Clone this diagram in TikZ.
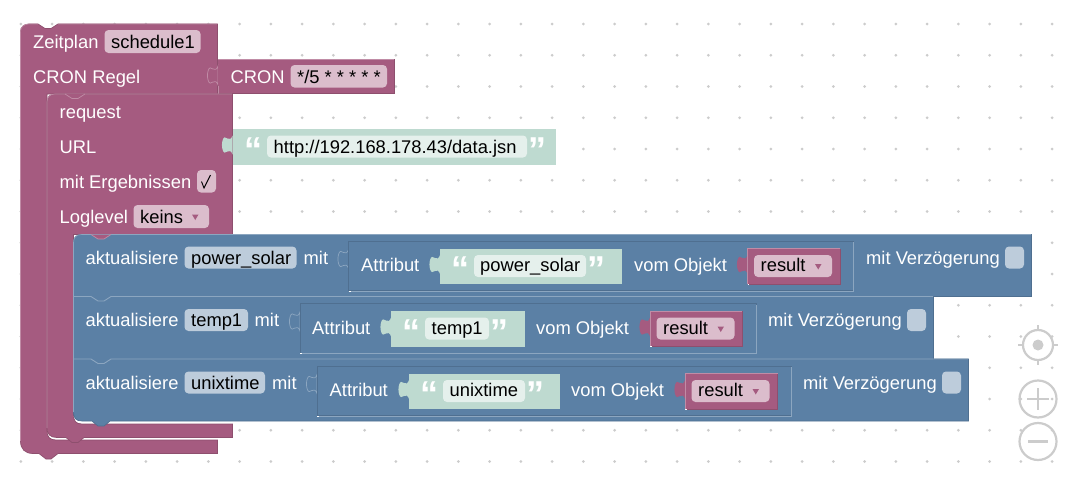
\documentclass[tikz,border=0pt]{standalone}
\usepackage{fontspec}
\setmainfont{Liberation Sans}
\definecolor{pink}{HTML}{A55B80}
\definecolor{pinkD}{HTML}{8E4F6E}
\definecolor{pinkL}{HTML}{C08CA6}
\definecolor{pinkF}{HTML}{DBBDCC}
\definecolor{blu}{HTML}{5B80A5}
\definecolor{bluD}{HTML}{4F6F90}
\definecolor{bluL}{HTML}{8CA6C0}
\definecolor{bluF}{HTML}{BDCCDB}
\definecolor{grn}{HTML}{BEDAD0}
\definecolor{grnF}{HTML}{E5F0EC}
\definecolor{ctl}{HTML}{CCCCCC}
\newcommand{\fs}{\fontsize{18.35}{22}\selectfont}
\tikzset{
 lbl/.style={anchor=base west,inner sep=0pt,text=white,font=\fs,yshift=-.7pt},
 val/.style={anchor=base west,inner sep=0pt,text=black,font=\fs,yshift=-.7pt},
 pinkblock/.style={fill=pink,draw=pinkD,line width=.7pt},
 blueblock/.style={fill=blu,draw=bluD,line width=.7pt},
 pinkfield/.style={fill=pinkF,rounded corners=4pt},
 bluefield/.style={fill=bluF,rounded corners=4pt},
 greenfield/.style={fill=grnF,rounded corners=4pt},
 quote/.style={anchor=base west,inner sep=0pt,text=white,font=\fontsize{36}{36}\bfseries\selectfont},
 ctlline/.style={draw=ctl,line width=2.2pt},
}
% socket tab: #1 style, #2 x of block left edge, #3 y of block top
\newcommand{\tabpath}[3]{\path[#1] (#2,#3+6.5) .. controls (#2-1,#3+10) and (#2-3,#3+11) .. (#2-5,#3+9.5) .. controls (#2-7,#3+7.5) and (#2-9,#3+8) .. (#2-9.8,#3+11) .. controls (#2-10.8,#3+14) and (#2-10.8,#3+18) .. (#2-9.8,#3+21) .. controls (#2-9,#3+24) and (#2-7,#3+24.5) .. (#2-5,#3+22.5) .. controls (#2-3,#3+21) and (#2-1,#3+22) .. (#2,#3+25.5) -- cycle;}
% notch of a nested block, filled in the parent's colour
\newcommand{\notchfill}[3]{
 \fill[#2] (#1,#3) -- (#1+7,#3+4.5) -- (#1+13,#3+4.5) -- (#1+20,#3) -- cycle;
 \draw[#2L,line width=.7pt] (#1,#3) -- (#1+7,#3+4.5) -- (#1+13,#3+4.5) -- (#1+20,#3);
}
% string value: #1 x left, #2 y top, #3 x right, #4 field left, #5 field right
\newcommand{\strblock}[5]{
 \tabpath{fill=grn}{#1}{#2}
 \fill[grn] (#1,#2) rectangle (#3,#2+35.5);
 \fill[greenfield] (#4,#2+6.5) rectangle (#5,#2+28.5);
 \node[quote] at (#4-22.5,#2+33) {“};
 \node[quote] at (#5+1.5,#2+33) {”};
}
% attribute frame: #1 x left, #2 y top, #3 x right
\newcommand{\attrframe}[3]{
 \tabpath{draw=bluL,line width=.7pt,fill=blu}{#1}{#2+2}
 \fill[blu] (#1-.5,#2+8) rectangle (#1+1,#2+28);
 \draw[bluD,line width=.7pt,fill=blu] (#1,#2) rectangle (#3,#2+49.5);
 \draw[bluL,line width=.9pt] (#1+1,#2+50) -- (#3+.8,#2+50) -- (#3+.8,#2+1);
 \draw[white,line width=.8pt] (#1,#2+50) -- (#1+2,#2+50);
}
% result block: #1 x left, #2 y top
\newcommand{\resblock}[2]{
 \tabpath{fill=pink}{#1}{#2}
 \fill[pink] (#1,#2) rectangle (#1+92.5,#2+35.5);
 \draw[pinkL,line width=.8pt] (#1,#2+35.5) -- (#1,#2) -- (#1+92.5,#2);
 \draw[pinkD,line width=.8pt] (#1,#2+35.5) -- (#1+92.5,#2+35.5) -- (#1+92.5,#2);
 \draw[white,line width=.8pt] (#1,#2+35.5) -- (#1+1.5,#2+35.5);
 \fill[pinkfield] (#1+6.5,#2+6.5) rectangle (#1+84.5,#2+28.5);
 \fill[pink] (#1+67.5,#2+15.5) -- (#1+74,#2+15.5) -- (#1+70.75,#2+21) -- cycle;
}
\begin{document}
\begin{tikzpicture}[x=1pt,y=-1pt]
\useasboundingbox (0,0) rectangle (1080,482);
\fill[white] (0,0) rectangle (1080,482);
% grid dots
\foreach \i in {0,...,33}\foreach \j in {0,...,14}{
 \fill[ctl] (20.8+31.25*\i,24+31.25*\j) circle (1.5pt);}
% ---- outer statement
\path[pinkblock] (20.5,32) .. controls (20.5,27) and (24,24) .. (29,24) -- (38,24) -- (45,28.5) -- (51,28.5) -- (58,24) -- (217.5,24) -- (217.5,94) -- (47,94) -- (47,431) .. controls (47,437) and (50,440) .. (56,440) -- (217.5,440) -- (217.5,453.5) -- (58,453.5) -- (51,459) -- (46,459) -- (39,453.5) -- (33,453.5) .. controls (25,453.5) and (20.5,449) .. (20.5,441) -- cycle;
\draw[pinkL,line width=.7pt] (20.5,441) -- (20.5,32) .. controls (20.5,27) and (24,24) .. (29,24) -- (38,24) (58,24) -- (217,24);
% CRON value
\fill[pink] (218,59) rectangle (394,93.5);
\draw[pinkD,line width=.7pt] (218,93.5) -- (394,93.5) -- (394,59);
\draw[pinkL,line width=.7pt] (218,59) -- (394,59);
\tabpath{draw=pinkL,line width=.7pt,fill=pink}{218}{59.5}
\fill[pink] (218,65) rectangle (219.5,86);
\draw[pinkL,line width=.7pt] (218,85.5) -- (218,93.5);
\node[lbl] (zeit) at (33,47.7) {Zeitplan};
\fill[pinkfield] (104.5,30) rectangle (200.5,53);
\node[val] (sched) at (111,47.7) {schedule1};
\node[lbl] (cronr) at (33,82.7) {CRON Regel};
\node[lbl] (cron) at (230.5,82.7) {CRON};
\fill[pinkfield] (290.5,65) rectangle (387,87.5);
\node[val] (cronv) at (297,82.7) {*/5 * * * * *};
% ---- request statement
\path[pinkblock] (47,102) .. controls (47,97) and (50,94) .. (55,94) -- (232.5,94) -- (232.5,234.5) -- (73.5,234.5) -- (73.5,415) .. controls (73.5,421) and (76,424) .. (82,424) -- (232.5,424) -- (232.5,437.5) -- (84,437.5) -- (78,442.5) -- (72,442.5) -- (66,437.5) -- (57,437.5) .. controls (50,437.5) and (47,434) .. (47,428) -- cycle;
\draw[pinkL,line width=.7pt] (47,428) -- (47,102) .. controls (47,97) and (50,94) .. (55,94) -- (232,94);
\notchfill{65}{pink}{94}
\node[lbl] (req) at (59.5,117.3) {request};
\node[lbl] (url) at (59.5,152.7) {URL};
\node[lbl] (erg) at (59.5,187.7) {mit Ergebnissen};
\fill[pinkfield] (197,170) rectangle (216,192.5);
\draw[black,line width=.9pt] (201.5,181.5) -- (204,188) -- (210.5,175);
\node[lbl] (log) at (59.5,222.7) {Loglevel};
\fill[pinkfield] (133.5,205) rectangle (209,228);
\node[val] (keins) at (140,222.7) {keins};
\fill[pink] (192,214.5) -- (198.5,214.5) -- (195.25,220) -- cycle;
% URL string
\strblock{232.5}{129}{556}{267}{527}
\node[val] (urlv) at (273.5,152.7) {http://192.168.178.43/data.jsn};
% ---- blue statements
\path[blueblock] (73.5,367) -- (73.5,243) .. controls (73.5,237.5) and (76,234.5) .. (82,234.5) -- (1031.5,234.5) -- (1031.5,296.5) -- (933.5,296.5) -- (933.5,359) -- (968.5,359) -- (968.5,421) -- (110,421) -- (104,426) -- (98,426) -- (92,421) -- (82,421) .. controls (76,421) and (73.5,418) .. (73.5,412) -- cycle;
\draw[bluL,line width=.7pt] (73.5,412) -- (73.5,243) .. controls (73.5,237.5) and (76,234.5) .. (82,234.5) -- (1031,234.5);
\notchfill{91}{pink}{234.5}
\draw[bluL,line width=.9pt] (74,296.5) -- (91,296.5) -- (98,301) -- (104,301) -- (111,296.5) -- (933,296.5);
\draw[bluL,line width=.9pt] (74,359) -- (91,359) -- (98,363.5) -- (104,363.5) -- (111,359) -- (968,359);
% row 1
\node[lbl] (ak1) at (85.5,263.5) {aktualisiere};
\fill[bluefield] (184.5,246.5) rectangle (296.5,268.5);
\node[val] (v1) at (191,263.5) {power\_solar};
\node[lbl] (mit1) at (303.5,263.5) {mit};
\attrframe{348.5}{241}{853}
\node[lbl] (at1) at (361,271) {Attribut};
\strblock{440}{248.5}{622}{474}{586}
\node[val] (s1) at (480,271) {power\_solar};
\node[lbl] (vo1) at (634,271) {vom Objekt};
\resblock{747.5}{248.5}
\node[val] (r1) at (760.5,271) {result};
\node[lbl] (mv1) at (866,263.5) {mit Verzögerung};
\fill[bluefield] (1005,246.5) rectangle (1024,268.5);
% row 2
\node[lbl] (ak2) at (85.5,326) {aktualisiere};
\fill[bluefield] (184.5,309) rectangle (248,331);
\node[val] (v2) at (191,326) {temp1};
\node[lbl] (mit2) at (254.5,326) {mit};
\attrframe{300}{303.5}{756}
\node[lbl] (at2) at (312,333.5) {Attribut};
\strblock{391}{311}{525}{425}{489}
\node[val] (s2) at (431.5,333.5) {temp1};
\node[lbl] (vo2) at (536,333.5) {vom Objekt};
\resblock{650}{311}
\node[val] (r2) at (663,333.5) {result};
\node[lbl] (mv2) at (768,326) {mit Verzögerung};
\fill[bluefield] (907,309) rectangle (926,331);
% row 3
\node[lbl] (ak3) at (85.5,388.5) {aktualisiere};
\fill[bluefield] (184.5,371.5) rectangle (265,393.5);
\node[val] (v3) at (191,388.5) {unixtime};
\node[lbl] (mit3) at (272,388.5) {mit};
\attrframe{317}{366}{791}
\node[lbl] (at3) at (329.5,396) {Attribut};
\strblock{409}{373.5}{560}{443}{525}
\node[val] (s3) at (449.5,396) {unixtime};
\node[lbl] (vo3) at (571,396) {vom Objekt};
\resblock{685}{373.5}
\node[val] (r3) at (698,396) {result};
\node[lbl] (mv3) at (803,388.5) {mit Verzögerung};
\fill[bluefield] (942,371.5) rectangle (961,393.5);
% ---- zoom controls
\draw[ctlline] (1038,345) circle (15);
\fill[ctl] (1038,345) circle (5.5);
\draw[ctlline] (1038,325) -- (1038,331) (1038,359) -- (1038,365) (1018,345) -- (1024,345) (1052,345) -- (1057.5,345);
\draw[ctlline] (1038,399) circle (18.5);
\draw[ctlline] (1027,399) -- (1049,399) (1038,388) -- (1038,410);
\draw[ctlline] (1038,441.5) circle (18.5);
\draw[ctlline] (1028,441.5) -- (1048,441.5);
\end{tikzpicture}
\end{document}
